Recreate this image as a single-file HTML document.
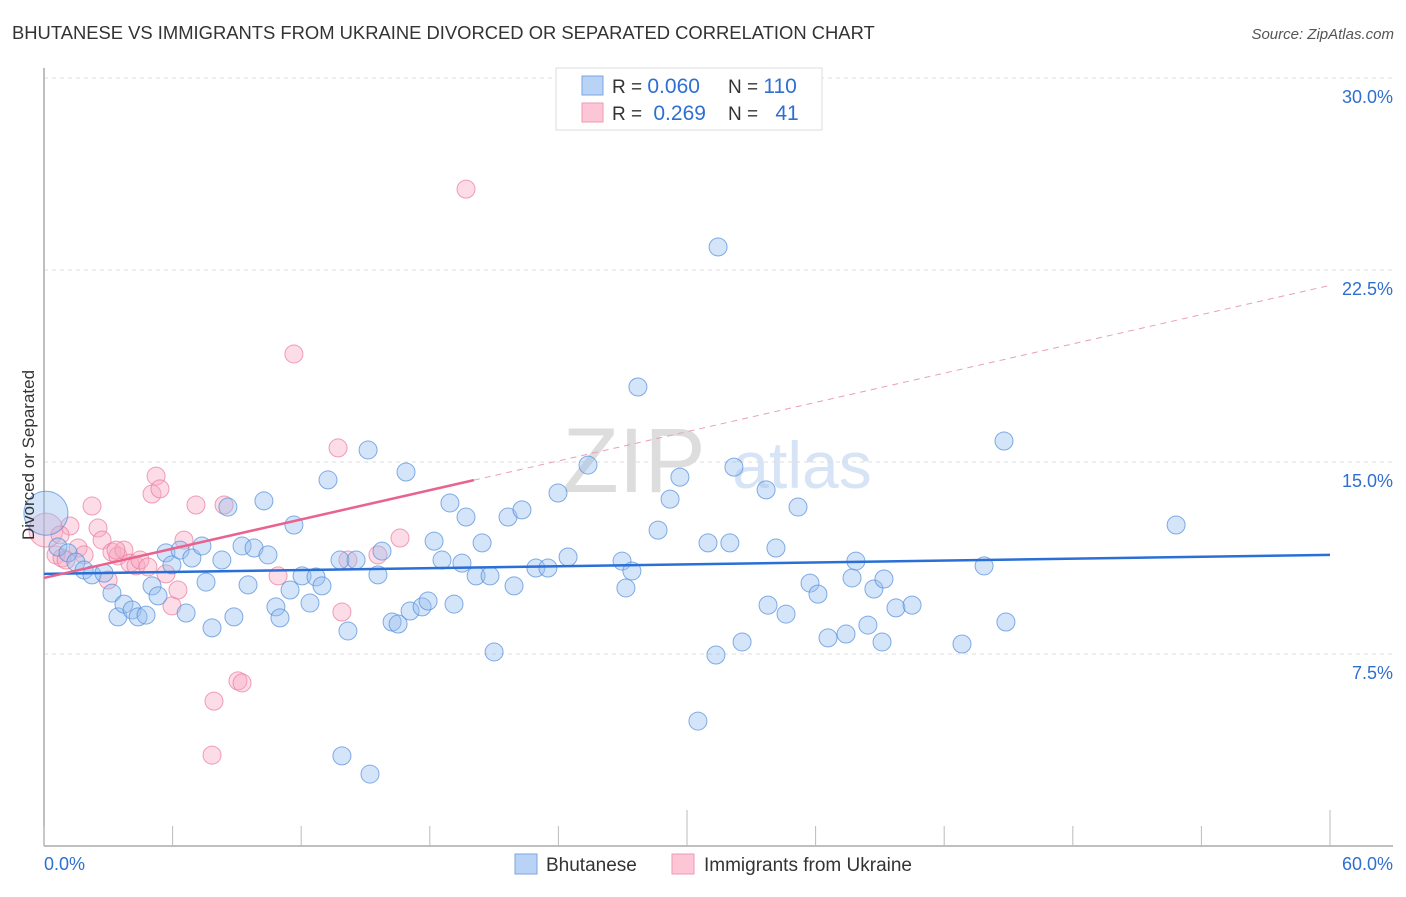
<!DOCTYPE html>
<html><head><meta charset="utf-8"><style>
body{margin:0;background:#fff;font-family:"Liberation Sans",sans-serif}
svg text{font-family:"Liberation Sans",sans-serif}
</style></head><body>
<svg id="chart" width="1406" height="892" xmlns="http://www.w3.org/2000/svg">
<text x="12" y="39" font-size="18.4" fill="#333">BHUTANESE VS IMMIGRANTS FROM UKRAINE DIVORCED OR SEPARATED CORRELATION CHART</text>
<text x="1394" y="39" font-size="15" fill="#555" text-anchor="end" font-style="italic">Source: ZipAtlas.com</text>
<g>
<text x="634" y="492" font-size="92" fill="#ddd" font-family="Liberation Serif" text-anchor="middle">ZIP</text>
<text x="802" y="488" font-size="66" fill="#d6e4f5" text-anchor="middle">atlas</text>
</g>
<g id="grid"></g>
<g id="axes"></g>
<g id="pts"></g>
<g id="trends"></g>
<text transform="translate(34,455) rotate(-90)" font-size="17" fill="#333" text-anchor="middle">Divorced or Separated</text>
<g>
<rect x="556" y="68" width="266" height="62" fill="#fff" stroke="#ddd"/>
<rect x="582" y="76" width="21" height="19" fill="#b8d3f5" stroke="#7aa5e0"/>
<rect x="582" y="103" width="21" height="19" fill="#fcc6d6" stroke="#ef9ab5"/>
<text x="612" y="93" font-size="19" fill="#333">R = <tspan fill="#2f6fd0" font-size="21">0.060</tspan></text>
<text x="728" y="93" font-size="19" fill="#333">N = <tspan fill="#2f6fd0" font-size="21">110</tspan></text>
<text x="612" y="120" font-size="19" fill="#333">R = <tspan fill="#2f6fd0" dx="6" font-size="21">0.269</tspan></text>
<text x="728" y="120" font-size="19" fill="#333">N = <tspan fill="#2f6fd0" dx="12" font-size="21">41</tspan></text>
</g>
<g>
<rect x="515" y="854" width="22" height="20" fill="#b8d3f5" stroke="#7aa5e0"/>
<text x="546" y="871" font-size="19" fill="#333">Bhutanese</text>
<rect x="672" y="854" width="22" height="20" fill="#fcc6d6" stroke="#ef9ab5"/>
<text x="704" y="871" font-size="19" fill="#333">Immigrants from Ukraine</text>
</g>
</svg>
<script>
const yTicks=[7.5,15,22.5,30];
const yTickLabels=["7.5%","15.0%","22.5%","30.0%"];
const xTickLabels=["0.0%","60.0%"];
const blueX=[0.09,0.65,1.12,1.49,1.87,2.24,2.8,3.17,3.45,3.73,4.11,4.39,4.76,5.04,5.32,5.69,5.97,6.35,6.63,6.9,7.37,7.56,7.84,8.3,8.58,8.86,9.24,9.52,9.8,10.26,10.45,10.82,11.01,11.48,11.66,12.04,12.41,12.69,12.97,13.25,13.81,14.18,14.56,15.12,15.58,15.77,16.24,16.52,16.89,17.08,17.64,17.92,18.2,18.57,18.94,19.13,19.5,19.69,20.16,20.44,20.81,21.0,21.65,21.93,22.3,22.95,23.51,23.98,24.45,25.38,26.97,27.15,27.43,27.71,28.65,29.21,29.67,30.51,30.98,31.35,31.45,32.0,32.19,32.57,33.69,33.78,34.15,34.62,35.18,35.74,36.11,36.58,37.42,37.7,37.88,38.44,38.72,39.1,39.19,39.75,40.5,42.83,43.86,44.79,44.88,52.82,13.9,15.21];
const blueY=[13.0,11.68,11.45,11.09,10.78,10.59,10.66,9.88,8.95,9.45,9.22,8.95,9.02,10.16,9.77,11.45,10.98,11.56,9.1,11.25,11.72,10.31,8.52,11.17,13.24,8.95,11.72,10.2,11.64,13.48,11.37,9.34,8.91,10.0,12.54,10.55,9.49,10.51,10.16,14.3,11.17,8.4,11.17,15.47,10.59,11.52,8.75,8.67,14.61,9.18,9.34,9.57,11.91,11.17,13.4,9.45,11.05,12.85,10.55,11.84,10.55,7.58,12.85,10.16,13.13,10.86,10.86,13.79,11.29,14.88,11.13,10.08,10.74,17.93,12.34,13.55,14.41,4.88,11.84,7.46,23.4,11.84,14.8,7.97,13.91,9.41,11.64,9.06,13.24,10.27,9.84,8.13,8.28,10.47,11.13,8.63,10.04,7.97,10.43,9.3,9.41,7.89,10.94,15.82,8.75,12.54,3.52,2.81];
const pinkX=[0.09,0.56,0.84,1.21,1.59,1.87,2.24,2.52,2.71,2.99,3.17,3.45,3.73,4.01,4.29,4.48,4.85,5.04,5.23,5.41,5.69,5.97,6.25,6.53,7.09,8.4,7.93,7.84,9.05,9.24,10.92,11.66,13.72,13.9,14.18,15.58,16.61,19.69,0.75,1.03,3.36];
const pinkY=[12.34,11.37,11.25,12.5,11.64,11.37,13.28,12.42,11.95,10.39,11.48,11.33,11.56,11.05,10.94,11.17,10.9,13.75,14.45,13.95,10.63,9.38,10.0,11.95,13.32,13.32,5.66,3.55,6.45,6.37,10.55,19.22,15.55,9.14,11.17,11.37,12.03,25.66,12.15,11.17,11.56];
const blueTrend=[10.63,11.37];
const pinkTrend=[10.47,21.9];
const pinkSolidEnd=20.06;
const NS="http://www.w3.org/2000/svg";
const X0=44,X1=1330,XMAX=60,Y0=846,PPU=25.6;
const sx=v=>X0+v/XMAX*(X1-X0);
const sy=v=>Y0-v*PPU;
function mk(tag,attrs,parent){const e=document.createElementNS(NS,tag);for(const k in attrs)e.setAttribute(k,attrs[k]);parent.appendChild(e);return e;}
const grid=document.getElementById('grid');
yTicks.forEach((t,i)=>{
 const l=mk('line',{x1:44,x2:1393,y1:sy(t),y2:sy(t),stroke:'#ddd','stroke-dasharray':'4,4'},grid);
 
 
 const tx=mk('text',{x:1393,y:sy(t)+25,'font-size':18,fill:'#2f6fd0','text-anchor':'end'},grid);
 
 
 tx.textContent=yTickLabels[i];
});
const ax=document.getElementById('axes');
const yl=mk('line',{x1:44,x2:44,y1:68,y2:846,stroke:'#aaa','stroke-width':1.5},ax);


const xl=mk('line',{x1:44,x2:1393,y1:846,y2:846,stroke:'#aaa','stroke-width':1.5},ax);


for(let i=0;i<=10;i++){
 const x=sx(i*6);
 const tk=mk('line',{x1:x,x2:x,y1:(i==5||i==10)?810:826,y2:846,stroke:'#bbb'},ax);
 
 
}
[[0,'start'],[60,'end']].forEach((p,i)=>{
 const t=mk('text',{x:i?1393:44,y:870,'font-size':18,fill:'#2f6fd0','text-anchor':p[1]},ax);
 
 
 t.textContent=xTickLabels[i];
});
const pts=document.getElementById('pts');
pinkX.forEach((x,i)=>{
 const c=mk('circle',{cx:sx(x),cy:sy(pinkY[i]),r:i==0?17:9,fill:'rgba(248,170,195,0.4)',stroke:'rgba(235,120,155,0.7)','stroke-width':1},pts);
 
 
});
blueX.forEach((x,i)=>{
 const c=mk('circle',{cx:sx(x),cy:sy(blueY[i]),r:i==0?22:9,fill:'rgba(150,190,240,0.4)',stroke:'rgba(80,140,220,0.7)','stroke-width':1},pts);
 
 
});
const tr=document.getElementById('trends');
const bl=mk('line',{x1:sx(0),y1:sy(blueTrend[0]),x2:sx(60),y2:sy(blueTrend[1]),stroke:'#2a6fd6','stroke-width':2.5},tr);


const pAt=x=>pinkTrend[0]+(pinkTrend[1]-pinkTrend[0])*x/60;
const ps=mk('line',{x1:sx(0),y1:sy(pAt(0)),x2:sx(pinkSolidEnd),y2:sy(pAt(pinkSolidEnd)),stroke:'#e8638e','stroke-width':2.5},tr);


const pd=mk('line',{x1:sx(pinkSolidEnd),y1:sy(pAt(pinkSolidEnd)),x2:sx(60),y2:sy(pAt(60)),stroke:'#e8a0b8','stroke-width':1,'stroke-dasharray':'6,5'},tr);


</script>
</body></html>
